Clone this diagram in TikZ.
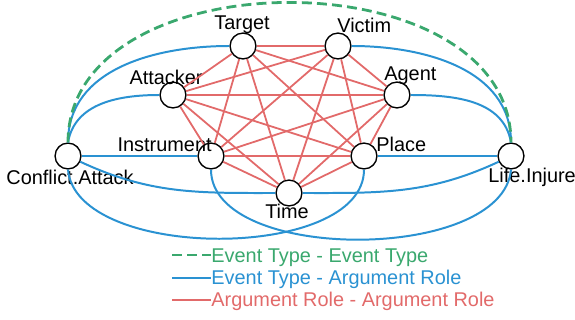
\documentclass[tikz,border=0pt]{standalone}
\usepackage{fontspec}
\setmainfont{Liberation Sans}
\usepackage{xcolor}
\usepackage{tikz}
\usetikzlibrary{positioning, calc}
\definecolor{evgreen}{HTML}{3AA86E}
\definecolor{argblue}{HTML}{2A92D2}
\definecolor{rolered}{HTML}{E26A6A}

\begin{document}
\begin{tikzpicture}[x=0.5025pt, y=0.5025pt,
    role/.style={circle, draw, line width=0.7pt, fill=white, minimum size=13pt, inner sep=0pt},
    tag/.style={font=\fontsize{10}{12}\selectfont, inner sep=0pt},
    ee/.style={draw=evgreen, line width=1.4pt, dash pattern=on 5pt off 2.6pt},
    ea/.style={draw=argblue, line width=1pt},
    aa/.style={draw=rolered, line width=0.9pt}]
  \useasboundingbox (0,0) rectangle (575,320);

  % event types
  \node[role] (attack) at (68,164) {};
  \node[role] (injure) at (511,164) {};
  % argument roles
  \node[role] (target) at (243,274) {};
  \node[role] (victim) at (338,274) {};
  \node[role] (attacker) at (173,225) {};
  \node[role] (agent) at (397,225) {};
  \node[role] (instrument) at (211,164) {};
  \node[role] (place) at (364,164) {};
  \node[role] (time) at (289,127) {};

  % names
  \node[tag, anchor=base] (attacktxt) at (70,135) {Conflict.Attack};
  \node[tag, anchor=base west] (injuretxt) at (488,137) {Life.Injure};
  \node[tag, anchor=base] (targettxt) at (242,290) {Target};
  \node[tag, anchor=base west] (victimtxt) at (337,287) {Victim};
  \node[tag, anchor=base] (attackertxt) at (166,235) {Attacker};
  \node[tag, anchor=base west] (agenttxt) at (384,239) {Agent};
  \node[tag, anchor=base east] (instrumenttxt) at (212,168) {Instrument};
  \node[tag, anchor=base west] (placetxt) at (376,168) {Place};
  \node[tag, anchor=base] (timetxt) at (287,101) {Time};

  % argument role - argument role
  \foreach \a/\b in {target/victim, target/attacker, target/agent, target/instrument,
      target/place, target/time, victim/attacker, victim/agent, victim/instrument,
      victim/place, victim/time, attacker/agent, attacker/instrument, attacker/place,
      attacker/time, agent/instrument, agent/place, agent/time, instrument/place,
      instrument/time, place/time}
    \draw[aa] (\a) -- (\b);

  % event type - argument role
  \draw[ea] (attack.north) to[out=90, in=180] (target);
  \draw[ea] (attack.north) to[out=80, in=180] (attacker);
  \draw[ea] (attack) -- (instrument);
  \draw[ea] (attack) to[out=-25, in=180] (time);
  \draw[ea] (attack.south) to[out=-85, in=-90, looseness=0.8] (place.south);
  \draw[ea] (victim) to[out=0, in=90] (injure.north);
  \draw[ea] (agent) to[out=0, in=100] (injure.north);
  \draw[ea] (place) -- (injure);
  \draw[ea] (time) to[out=0, in=205] (injure);
  \draw[ea] (instrument.south) to[out=-90, in=-95, looseness=0.8] (injure.south);

  % event type - event type
  \draw[ee] (attack.north) to[out=90, in=90, looseness=1.08] (injure.north);

  % legend
  \node[tag, anchor=base west, text=evgreen] (keyee) at (211,57) {Event Type - Event Type};
  \node[tag, anchor=base west, text=argblue] (keyea) at (211,35) {Event Type - Argument Role};
  \node[tag, anchor=base west, text=rolered] (keyaa) at (211,13) {Argument Role - Argument Role};
  \coordinate (keyeefrom) at (172,65);
  \coordinate (keyeafrom) at (172,42);
  \coordinate (keyaafrom) at (172,20);
  \draw[ee] (keyeefrom) -- (keyee.west |- keyeefrom);
  \draw[ea] (keyeafrom) -- (keyea.west |- keyeafrom);
  \draw[aa] (keyaafrom) -- (keyaa.west |- keyaafrom);
\end{tikzpicture}
\end{document}
